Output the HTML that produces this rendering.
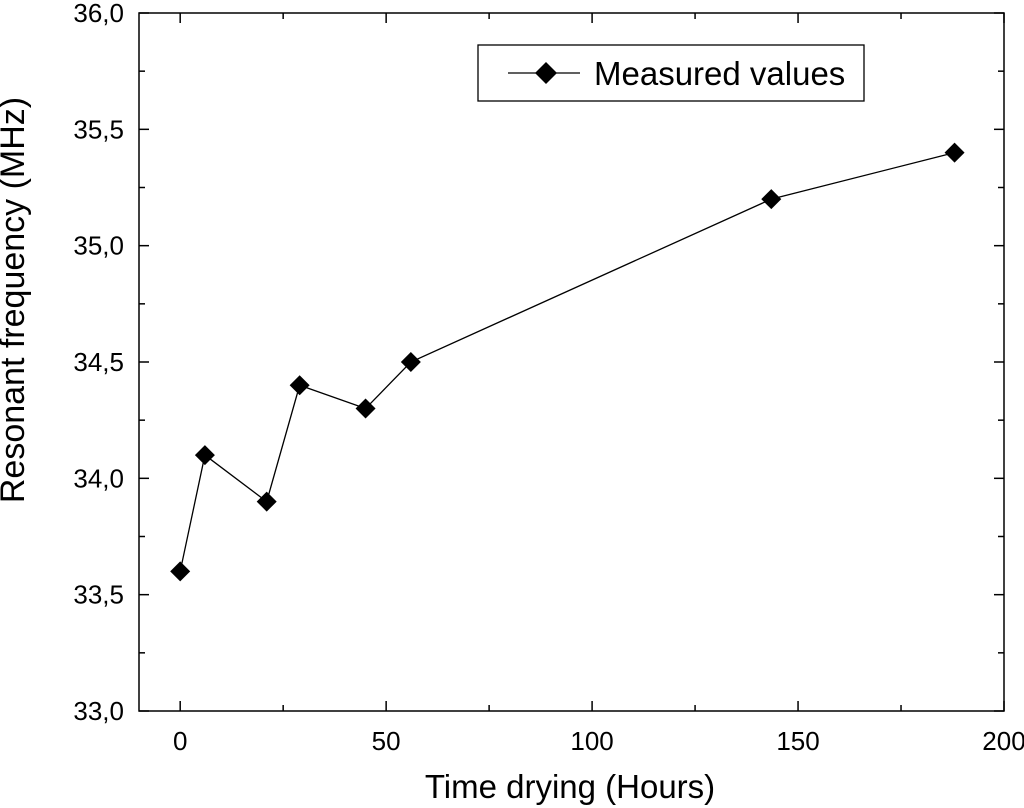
<!DOCTYPE html>
<html><head><meta charset="utf-8"><style>
html,body{margin:0;padding:0;background:#fff;}
svg{display:block;font-family:"Liberation Sans",Arial,sans-serif;}
</style></head><body>
<svg id="chart" width="1024" height="808"></svg>
<script>
const xValues=[0,6,21,29,45,56,143.5,188];
const yValues=[33.6,34.1,33.9,34.4,34.3,34.5,35.2,35.4];
const xTicks=[0,50,100,150,200];
const yTicks=[33.0,33.5,34.0,34.5,35.0,35.5,36.0];
const yTickLabels=["33,0","33,5","34,0","34,5","35,0","35,5","36,0"];
const L=139,R=1004,T=13,B=711;
const xMin=-10,xMax=200,yMin=33,yMax=36;
const sx=v=>L+(v-xMin)/(xMax-xMin)*(R-L);
const sy=v=>B-(v-yMin)/(yMax-yMin)*(B-T);
const svg=document.getElementById('chart');
const NS='http://www.w3.org/2000/svg';
function mk(tag,attrs,parent){const e=document.createElementNS(NS,tag);for(const k in attrs)e.setAttribute(k,attrs[k]);(parent||svg).appendChild(e);return e;}
let frame=mk('rect',{x:L,y:T,width:R-L,height:B-T,fill:'none',stroke:'#000','stroke-width':1.5});


for(let v=0;v<=200;v+=25){
 const x=sx(v);const major=v%50===0;const len=major?10:6;
 let t=mk('line',{x1:x,y1:B,x2:x,y2:B-len,stroke:'#000','stroke-width':1.5});
 
 
 let t2=mk('line',{x1:x,y1:T,x2:x,y2:T+len,stroke:'#000','stroke-width':1.5});
 
 
}
xTicks.forEach(v=>{
 let tx=mk('text',{x:sx(v),y:B+39,'text-anchor':'middle','font-size':26,fill:'#000'});
 tx.textContent=v;
 
 
});
for(let v=33;v<=36.001;v+=0.25){
 const y=sy(v);const major=Math.abs(v*2-Math.round(v*2))<1e-6;const len=major?10:6;
 let t=mk('line',{x1:L,y1:y,x2:L+len,y2:y,stroke:'#000','stroke-width':1.5});
 
 
 let t2=mk('line',{x1:R,y1:y,x2:R-len,y2:y,stroke:'#000','stroke-width':1.5});
 
 
}
yTicks.forEach((v,i)=>{
 let tx=mk('text',{x:124,y:sy(v)+9,'text-anchor':'end','font-size':26,fill:'#000'});
 tx.textContent=yTickLabels[i];
 
 
});
let xt=mk('text',{x:570,y:798,'text-anchor':'middle','font-size':33,fill:'#000'});
xt.textContent='Time drying (Hours)';


let yt=mk('text',{x:0,y:0,'text-anchor':'middle','font-size':34,fill:'#000',transform:'translate(24,300) rotate(-90)'});
yt.textContent='Resonant frequency (MHz)';


let pts=xValues.map((v,i)=>sx(v)+','+sy(yValues[i])).join(' ');
let line=mk('polyline',{points:pts,fill:'none',stroke:'#000','stroke-width':1.3});


function diamond(cx,cy,r){return `${cx},${cy-r} ${cx+r},${cy} ${cx},${cy+r} ${cx-r},${cy}`;}
xValues.forEach((v,i)=>{
 let p=mk('polygon',{points:diamond(sx(v),sy(yValues[i]),10),fill:'#000'});
 
 
});
let lg=mk('g',{});


mk('rect',{x:478,y:45,width:386,height:56,fill:'#fff',stroke:'#000','stroke-width':1.3},lg);
mk('line',{x1:508,y1:73,x2:580,y2:73,stroke:'#000','stroke-width':1.3},lg);
mk('polygon',{points:diamond(546,73,11),fill:'#000'},lg);
let lt=mk('text',{x:594,y:85,'font-size':33,fill:'#000'},lg);
lt.textContent='Measured values';


</script>
</body></html>
